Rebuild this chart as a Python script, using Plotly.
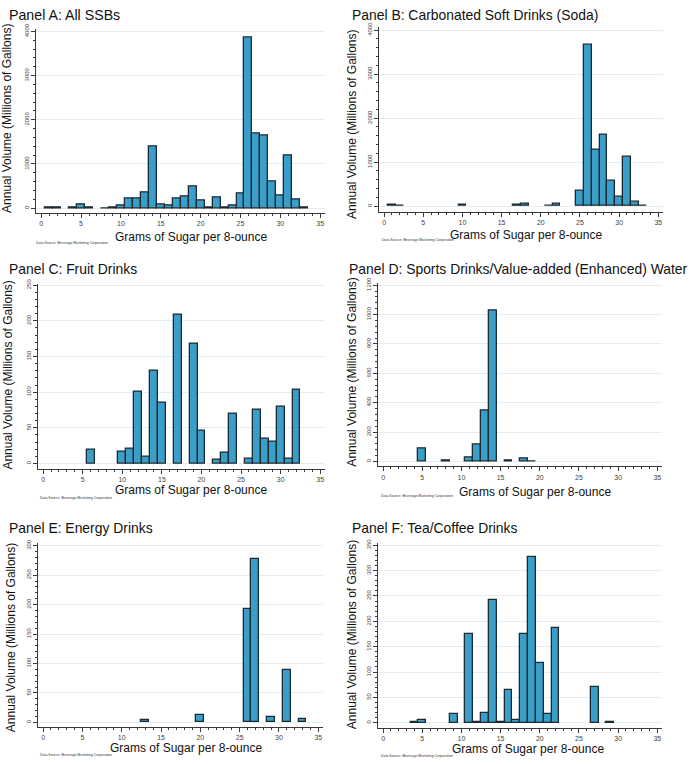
import plotly.graph_objects as go

# ---------------- data ----------------
titles = [
    "Panel A: All SSBs",
    "Panel B: Carbonated Soft Drinks (Soda)",
    "Panel C: Fruit Drinks",
    "Panel D: Sports Drinks/Value-added (Enhanced) Water",
    "Panel E: Energy Drinks",
    "Panel F: Tea/Coffee Drinks",
]

a_sugar = [1, 2, 4, 5, 6, 8, 9, 10, 11, 12, 13, 14, 15, 16, 17, 18, 19, 20, 21, 22, 23, 24, 25, 26, 27, 28, 29, 30, 31, 32, 33]
a_volume = [25, 5, 5, 90, 25, 3, 20, 50, 215, 210, 365, 1395, 80, 65, 225, 255, 490, 170, 20, 245, 15, 70, 335, 3865, 1700, 1640, 605, 285, 1195, 195, 10]

b_sugar = [1, 2, 10, 17, 18, 21, 22, 25, 26, 27, 28, 29, 30, 31, 32, 33]
b_volume = [20, 5, 40, 20, 60, 5, 60, 340, 3670, 1285, 1620, 565, 210, 1110, 90, 5]

c_sugar = [6, 10, 11, 12, 13, 14, 15, 17, 19, 20, 22, 23, 24, 26, 27, 28, 29, 30, 31, 32]
c_volume = [19, 17, 21, 101, 9, 130, 85, 209, 168, 46, 5, 15, 70, 6.5, 75, 34, 31, 79, 7, 104]

d_sugar = [5, 8, 11, 12, 13, 14, 16, 18, 19]
d_volume = [90, 5, 25, 115, 346, 1029, 4, 22, 3]

e_sugar = [13, 20, 26, 27, 29, 31, 33]
e_volume = [4.5, 12, 192, 277, 9.5, 89, 6]

f_sugar = [4, 5, 9, 11, 12, 13, 14, 15, 16, 17, 18, 19, 20, 21, 22, 27, 29]
f_volume = [2, 4.5, 18, 175, 1, 19.5, 242, 0.5, 64.5, 6, 175, 326, 117, 18, 186, 70, 0.5]

x_ticks = [0, 5, 10, 15, 20, 25, 30, 35]
y_tick_step = [1000, 1000, 50, 200, 50, 50]
y_tick_max = [4000, 4000, 250, 1200, 300, 350]
y_minor_step = [200, 200, 10, 40, 10, 10]

x_title = "Grams of Sugar per 8-ounce"
y_title = "Annual Volume (Millions of Gallons)"
source_text = "Data Source: Beverage Marketing Corporation"

series = [(a_sugar, a_volume), (b_sugar, b_volume), (c_sugar, c_volume),
          (d_sugar, d_volume), (e_sugar, e_volume), (f_sugar, f_volume)]

# ---------------- layout (pixel geometry) ----------------
W, H = 691, 764
# plot boxes: left, right, top, bottom (pixels)
boxes = [
    (36, 325, 22.7, 208),
    (379, 663, 20, 206.7),
    (38, 325, 279.3, 466),
    (378, 662, 279, 463.7),
    (38, 323, 541, 726.7),
    (378, 662, 541, 727.3),
]
# (zero pixel, top tick pixel) for y mapping
ymap = [(203, 24.7), (201, 23.3), (460.7, 280.7), (458.7, 280.7), (722, 543.7), (722.3, 543.3)]
title_pos = [(8, 8), (351, 8), (8, 264.5), (348, 264.5), (8, 526), (351, 526)]
ytitle_pos = [(7, 113), (352, 118), (8, 372), (352, 368), (11, 637), (352, 633)]
xtitle_pos = [(191, 232), (526, 230), (191, 487), (535, 489), (186, 748), (528, 749)]
source_pos = [(35, 238), (381, 235), (39, 496), (380, 494), (39, 755), (380, 756)]
title_sizes = [14.2, 13.9, 13.9, 13.9, 13.9, 13.9]

FONT = "Liberation Sans, Arial, sans-serif"
BAR_COLOR = "#3A9FC8"
EDGE = "#1C2A33"
GRID = "#E3EDF0"
AXIS = "#3A3A3A"

def px(x):
    return x / W

def py(y):
    return 1 - y / H

fig = go.Figure()
annotations = []
layout = {}

for i, (xs, ys) in enumerate(series):
    k = "" if i == 0 else str(i + 1)
    xa, ya = "x" + k, "y" + k
    fig.add_trace(go.Bar(
        x=xs, y=ys, width=1, xaxis=xa, yaxis=ya,
        marker=dict(color=BAR_COLOR, line=dict(color=EDGE, width=1.3)),
        showlegend=False,
    ))
    l, r, t, b = boxes[i]
    z, tt = ymap[i]
    M = y_tick_max[i]
    per = (z - tt) / M
    lo = -(b - z) / per
    hi = M + (tt - t) / per
    layout["xaxis" + k] = dict(
        domain=[px(l), px(r)], anchor=ya, range=[-0.65, 35.6],
        tickmode="array", tickvals=x_ticks, ticks="outside", ticklen=4,
        tickwidth=1, tickcolor=AXIS, showline=True, linecolor=AXIS, linewidth=1,
        showgrid=False, zeroline=False,
        tickfont=dict(family=FONT, size=7, color="#444"),
        minor=dict(dtick=1, ticks="outside", ticklen=2, tickcolor=AXIS, showgrid=False),
    )
    layout["yaxis" + k] = dict(
        domain=[py(b), py(t)], anchor=xa, range=[lo, hi],
        tick0=0, dtick=y_tick_step[i], ticks="outside", ticklen=4, tickwidth=1,
        tickcolor=AXIS, showline=True, linecolor=AXIS, linewidth=1,
        showgrid=True, gridcolor=GRID, gridwidth=1, zeroline=False,
        tickangle=-90,
        tickfont=dict(family=FONT, size=6, color="#444"),
        minor=dict(dtick=y_minor_step[i], ticks="outside", ticklen=2, tickcolor=AXIS, showgrid=False),
    )
    tx, ty = title_pos[i]
    annotations.append(dict(text=titles[i], x=px(tx), y=py(ty), xref="paper", yref="paper",
                            xanchor="left", yanchor="middle", showarrow=False, borderpad=0,
                            font=dict(family=FONT, size=title_sizes[i], color="#111")))
    yx, yy = ytitle_pos[i]
    annotations.append(dict(text=y_title, x=px(yx), y=py(yy), xref="paper", yref="paper",
                            xanchor="center", yanchor="middle", textangle=-90, showarrow=False,
                            font=dict(family=FONT, size=12, color="#111")))
    xx, xy = xtitle_pos[i]
    annotations.append(dict(text=x_title, x=px(xx), y=py(xy), xref="paper", yref="paper",
                            xanchor="center", yanchor="middle", showarrow=False,
                            font=dict(family=FONT, size=12, color="#111")))
    sx, sy = source_pos[i]
    annotations.append(dict(text=source_text, x=px(sx), y=py(sy), xref="paper", yref="paper",
                            xanchor="left", yanchor="middle", showarrow=False, borderpad=0,
                            font=dict(family=FONT, size=3.5, color="#333")))

fig.update_layout(
    width=W, height=H, margin=dict(l=0, r=0, t=0, b=0),
    paper_bgcolor="white", plot_bgcolor="white",
    annotations=annotations, bargap=0, hovermode=False, **layout,
)

fig.write_html(
    "out.html",
    config={"displayModeBar": False},
    post_script="document.body.style.margin='0';document.body.style.padding='0';document.body.style.overflow='hidden';",
)
